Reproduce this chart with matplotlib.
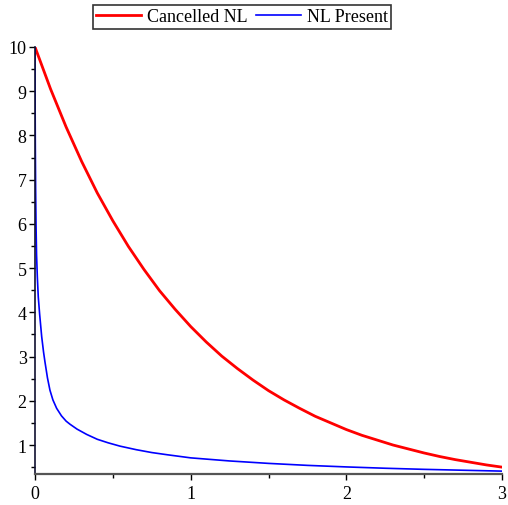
import numpy as np
import matplotlib.pyplot as plt
from matplotlib.ticker import MultipleLocator

plt.rcParams['font.family'] = ['Liberation Serif', 'DejaVu Serif']

# values
x_cancel = [0, 0.1, 0.2, 0.3, 0.4, 0.5, 0.6, 0.7, 0.8, 0.9, 1.0,
            1.1, 1.2, 1.3, 1.4, 1.5, 1.6, 1.7, 1.8, 1.9, 2.0,
            2.1, 2.2, 2.3, 2.4, 2.5, 2.6, 2.7, 2.8, 2.9, 3.0]
y_cancel = [10.0, 9.05, 8.19, 7.41, 6.70, 6.07, 5.49, 4.97, 4.49, 4.07, 3.68,
            3.33, 3.01, 2.73, 2.47, 2.23, 2.02, 1.83, 1.65, 1.50, 1.35,
            1.22, 1.11, 1.00, 0.91, 0.82, 0.74, 0.67, 0.61, 0.55, 0.50]

x_present = [0, 0.0005, 0.001, 0.002, 0.004, 0.0065, 0.01, 0.015, 0.021, 0.03,
             0.043, 0.055, 0.064, 0.08, 0.096, 0.115, 0.139, 0.17, 0.2, 0.225,
             0.27, 0.332, 0.4, 0.47, 0.546, 0.65, 0.75, 0.85, 1.0, 1.25,
             1.5, 1.75, 2.0, 2.25, 2.5, 2.75, 3.0]
y_present = [10.0, 9.1, 8.6, 7.8, 6.8, 6.0, 5.3, 4.8, 4.35, 3.95,
             3.45, 3.1, 2.88, 2.52, 2.24, 2.02, 1.83, 1.66, 1.54, 1.47,
             1.36, 1.24, 1.13, 1.05, 0.975, 0.895, 0.83, 0.78, 0.71, 0.64,
             0.585, 0.54, 0.505, 0.475, 0.45, 0.43, 0.41]

fig = plt.figure(figsize=(5.08, 5.06), dpi=100)
ax = fig.add_axes([35/508, 31/506, 467/508, 427/506])

ax.plot(x_cancel, y_cancel, color='#ff0000', lw=2.0, label='Cancelled NL')
ax.plot(x_present, y_present, color='#0000ff', lw=1.2, label='NL Present')

ax.set_xlim(0, 3)
ax.set_ylim(0.345, 10)

for s in ['top', 'right']:
    ax.spines[s].set_visible(False)
ax.spines['left'].set_color('#101030')
ax.spines['bottom'].set_color('#555555')
ax.spines['left'].set_linewidth(1.2)
ax.spines['bottom'].set_linewidth(1.6)

ax.xaxis.set_major_locator(MultipleLocator(1))
ax.xaxis.set_minor_locator(MultipleLocator(0.5))
ax.yaxis.set_major_locator(MultipleLocator(1))
ax.yaxis.set_minor_locator(MultipleLocator(0.5))
ax.tick_params(which='major', length=4, width=1, labelsize=13, pad=4)
ax.tick_params(which='minor', length=3, width=1)
ax.tick_params(axis='y', pad=2)

leg = fig.legend(loc='center', bbox_to_anchor=(242/508, 1 - 18/506), ncol=2,
                 fontsize=13, frameon=True, fancybox=False, edgecolor='black',
                 handlelength=2.5, borderpad=0.2, columnspacing=0.5,
                 handletextpad=0.3, borderaxespad=0.2)
leg.get_frame().set_linewidth(1.2)

fig.savefig('out.png', dpi=100)
